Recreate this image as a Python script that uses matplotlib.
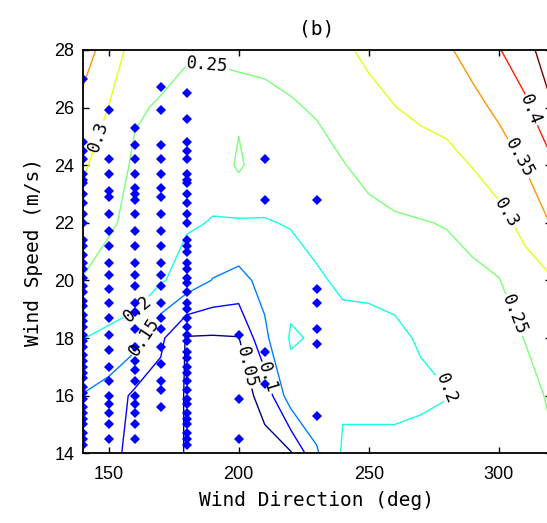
import numpy as np
import matplotlib
matplotlib.use('Agg')
import matplotlib.pyplot as plt

# contoured quantity on a coarse grid: rows = wind speed, cols = wind direction
direction = [140, 150, 160, 170, 180, 190, 200, 210, 220, 230,
             240, 250, 260, 270, 280, 290, 300, 310, 320]
speed = [14, 16, 18, 20, 22, 24, 26, 28]

z_14 = [0.125, 0.115, 0.085, 0.08, 0.046, 0.03, 0.025, 0.035, 0.045, 0.145,
        0.205, 0.21, 0.215, 0.22, 0.225, 0.235, 0.24, 0.245, 0.245]
z_16 = [0.148, 0.13, 0.09, 0.08, 0.046, 0.035, 0.03, 0.065, 0.18, 0.18,
        0.195, 0.19, 0.185, 0.19, 0.198, 0.215, 0.225, 0.236, 0.255]
z_18 = [0.201, 0.19, 0.17, 0.11, 0.046, 0.045, 0.048, 0.14, 0.205, 0.195,
        0.19, 0.185, 0.19, 0.205, 0.215, 0.23, 0.235, 0.251, 0.275]
z_20 = [0.248, 0.235, 0.235, 0.205, 0.18, 0.148, 0.135, 0.165, 0.185, 0.196,
        0.205, 0.21, 0.215, 0.225, 0.235, 0.24, 0.248, 0.28, 0.295]
z_22 = [0.278, 0.255, 0.24, 0.225, 0.205, 0.198, 0.195, 0.198, 0.202, 0.21,
        0.225, 0.238, 0.245, 0.248, 0.252, 0.265, 0.285, 0.313, 0.352]
z_24 = [0.307, 0.275, 0.243, 0.235, 0.222, 0.215, 0.258, 0.22, 0.225, 0.232,
        0.248, 0.262, 0.27, 0.278, 0.285, 0.302, 0.323, 0.352, 0.39]
z_26 = [0.339, 0.299, 0.255, 0.246, 0.236, 0.232, 0.242, 0.24, 0.245, 0.255,
        0.27, 0.285, 0.299, 0.31, 0.318, 0.335, 0.36, 0.39, 0.445]
z_28 = [0.37, 0.33, 0.28, 0.265, 0.255, 0.256, 0.255, 0.26, 0.27, 0.28,
        0.292, 0.31, 0.325, 0.34, 0.343, 0.37, 0.397, 0.43, 0.48]

levels = [0.05, 0.1, 0.15, 0.2, 0.25, 0.3, 0.35, 0.4, 0.45]

# measured samples (wind speed per direction column)
spd_140 = [27.0, 24.8, 24.5, 24.2, 23.7, 23.5, 23.4, 23.0, 22.7, 22.3, 22.0,
           21.4, 21.2, 20.9, 20.6, 20.4, 20.1, 19.8, 19.6, 19.3, 19.1, 18.8,
           18.6, 18.4, 18.1, 17.9, 17.7, 17.4, 17.2, 17.0, 16.8, 16.6, 16.3,
           16.1, 15.9, 15.6, 15.4, 15.2, 15.0, 14.7, 14.5, 14.3]
spd_150 = [25.9, 24.2, 23.7, 23.1, 22.9, 22.3, 21.7, 21.2, 20.6, 20.2, 19.7,
           19.2, 18.7, 18.1, 17.6, 17.0, 16.5, 16.0, 15.7, 15.4, 15.0, 14.5]
spd_160 = [25.3, 24.7, 24.2, 23.7, 23.2, 23.0, 22.8, 22.3, 21.7, 21.2, 20.6,
           20.2, 19.8, 19.2, 18.9, 18.3, 17.7, 17.2, 16.9, 16.5, 16.0, 15.7,
           15.4, 15.0, 14.5]
spd_170 = [26.7, 25.9, 24.7, 24.2, 23.7, 23.2, 22.9, 22.3, 21.7, 21.2, 20.6,
           20.2, 19.8, 19.2, 18.7, 18.3, 17.7, 17.1, 16.5, 16.2, 15.6]
spd_180 = [26.5, 25.6, 24.8, 24.5, 24.2, 23.7, 23.5, 23.4, 23.0, 22.7, 22.3,
           22.0, 21.4, 21.2, 21.0, 20.6, 20.4, 20.1, 19.9, 19.6, 19.2, 19.0,
           18.7, 18.4, 18.1, 17.9, 17.5, 17.3, 17.0, 16.8, 16.5, 16.2, 15.9,
           15.7, 15.4, 15.2, 15.0, 14.7, 14.5, 14.3]
spd_200 = [18.1, 15.9, 14.5]
spd_210 = [24.2, 22.8, 17.5, 16.4]
spd_230 = [22.8, 19.7, 19.2, 18.3, 17.8, 15.3]

samples = {140: spd_140, 150: spd_150, 160: spd_160, 170: spd_170,
           180: spd_180, 200: spd_200, 210: spd_210, 230: spd_230}

Z = np.array([z_14, z_16, z_18, z_20, z_22, z_24, z_26, z_28])
X, Y = np.meshgrid(direction, speed)

mono = 'DejaVu Sans Mono'

fig = plt.figure(figsize=(5.47, 5.23), dpi=100)
ax = fig.add_axes([0.1512, 0.1333, 0.8556, 0.7711])

cs = ax.contour(X, Y, Z, levels=levels, cmap='jet', linewidths=1.0)

label_pos = [(188, 27.4), (146, 25.0), (160, 19.1), (166, 17.9),
             (203, 17.0), (210, 16.6), (279, 16.2), (306, 18.8),
             (302, 22.3), (307, 24.2), (312, 25.9)]
ax.clabel(cs, inline=True, fmt='%g', fontsize=12.5, colors='k',
          manual=label_pos, inline_spacing=3)
for t in cs.labelTexts:
    t.set_family(mono)

for d, s in samples.items():
    ax.plot(np.full(len(s), d), s, 'D', color='#0000ff', markersize=5,
            markeredgewidth=0, linestyle='none')

ax.set_xlim(140, 320)
ax.set_ylim(14, 28)
ax.set_xticks([150, 200, 250, 300])
ax.set_yticks([14, 16, 18, 20, 22, 24, 26, 28])
ax.tick_params(direction='in', top=True, right=True, length=4, width=1,
               labelsize=13)
ax.tick_params(axis='x', pad=9)
ax.tick_params(axis='y', pad=6)
for lab in ax.get_xticklabels() + ax.get_yticklabels():
    lab.set_family('Liberation Sans')
for sp in ax.spines.values():
    sp.set_linewidth(1.3)

ax.set_xlabel('Wind Direction (deg)', family=mono, fontsize=14, labelpad=6)
ax.set_ylabel('Wind Speed (m/s)', family=mono, fontsize=14, labelpad=8)
ax.set_title('(b)', family=mono, fontsize=14, pad=11)

fig.savefig('out.png', dpi=100)
